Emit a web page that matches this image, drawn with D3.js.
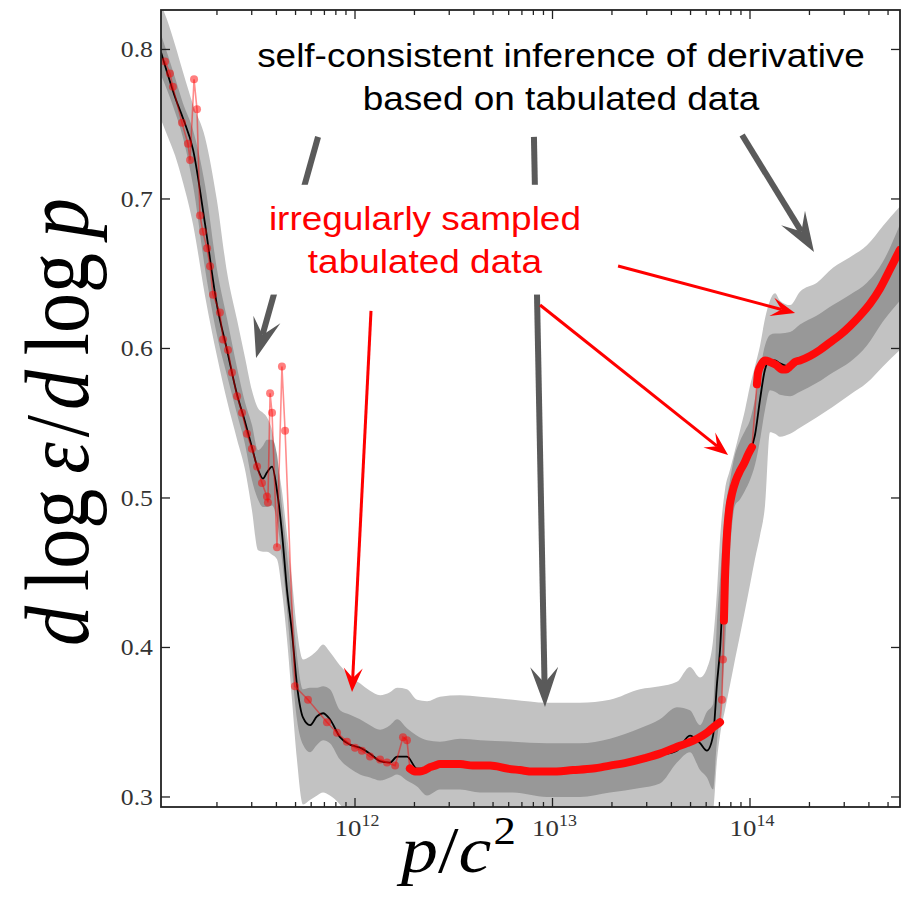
<!DOCTYPE html>
<html>
<head>
<meta charset="utf-8">
<style>
body { margin: 0; background: #fff; }
svg { display: block; }
</style>
</head>
<body>
<svg width="902" height="900"></svg>
<script src="https://d3js.org/d3.v7.min.js"></script>
<script>
// x positions are log10(p/c^2); values are d log eps / d log p
var gridLogP = [11.018, 11.048, 11.089, 11.129, 11.180, 11.241, 11.301, 11.352, 11.403, 11.443,
  11.478, 11.509, 11.534, 11.554, 11.580, 11.605, 11.630, 11.656, 11.681, 11.706,
  11.737, 11.772, 11.808, 11.838, 11.873, 11.924, 11.975, 12.025, 12.076, 12.127,
  12.177, 12.213, 12.263, 12.314, 12.365, 12.430, 12.532, 12.633, 12.800, 12.972,
  13.139, 13.291, 13.443, 13.544, 13.630, 13.696, 13.747, 13.782, 13.813, 13.833,
  13.848, 13.873, 13.899, 13.924, 13.949, 13.975, 14.000, 14.025, 14.051, 14.076,
  14.101, 14.127, 14.152, 14.203, 14.253, 14.339, 14.420, 14.506, 14.592, 14.673,
  14.759];

var median = [0.798, 0.785, 0.768, 0.754, 0.733, 0.683, 0.629, 0.599, 0.569, 0.551,
  0.534, 0.519, 0.513, 0.517, 0.521, 0.505, 0.477, 0.438, 0.410, 0.375,
  0.353, 0.348, 0.354, 0.356, 0.352, 0.340, 0.335, 0.333, 0.329, 0.324,
  0.323, 0.327, 0.327, 0.319, 0.319, 0.322, 0.322, 0.321, 0.319, 0.317,
  0.318, 0.321, 0.325, 0.328, 0.331, 0.341, 0.336, 0.331, 0.341, 0.376,
  0.398, 0.465, 0.495, 0.512, 0.519, 0.525, 0.531, 0.542, 0.566, 0.586,
  0.592, 0.592, 0.590, 0.588, 0.591, 0.599, 0.607, 0.615, 0.628, 0.644,
  0.666];

var lightHi = [0.830, 0.820, 0.803, 0.785, 0.763, 0.741, 0.699, 0.651, 0.619, 0.594,
  0.572, 0.560, 0.557, 0.554, 0.545, 0.525, 0.505, 0.475, 0.445, 0.412,
  0.392, 0.394, 0.398, 0.402, 0.397, 0.388, 0.381, 0.376, 0.371, 0.368,
  0.370, 0.373, 0.372, 0.365, 0.364, 0.367, 0.368, 0.367, 0.365, 0.363,
  0.363, 0.365, 0.372, 0.374, 0.377, 0.387, 0.380, 0.386, 0.405, 0.438,
  0.472, 0.505, 0.519, 0.532, 0.545, 0.559, 0.575, 0.588, 0.602, 0.620,
  0.632, 0.637, 0.632, 0.629, 0.638, 0.644, 0.654, 0.661, 0.669, 0.682,
  0.695];

var darkHi = [0.810, 0.798, 0.781, 0.764, 0.746, 0.709, 0.653, 0.620, 0.587, 0.564,
  0.549, 0.532, 0.535, 0.539, 0.539, 0.529, 0.495, 0.462, 0.430, 0.395,
  0.372, 0.373, 0.373, 0.374, 0.372, 0.358, 0.355, 0.352, 0.348, 0.345,
  0.348, 0.352, 0.346, 0.341, 0.338, 0.337, 0.339, 0.338, 0.337, 0.336,
  0.336, 0.339, 0.346, 0.352, 0.360, 0.358, 0.348, 0.357, 0.362, 0.418,
  0.445, 0.490, 0.512, 0.529, 0.538, 0.545, 0.552, 0.566, 0.586, 0.602,
  0.609, 0.610, 0.610, 0.611, 0.616, 0.622, 0.629, 0.636, 0.644, 0.658,
  0.683];

var darkLo = [0.783, 0.773, 0.758, 0.741, 0.709, 0.653, 0.609, 0.582, 0.556, 0.536,
  0.512, 0.499, 0.494, 0.494, 0.495, 0.485, 0.459, 0.425, 0.385, 0.352,
  0.335, 0.330, 0.335, 0.338, 0.336, 0.325, 0.319, 0.315, 0.313, 0.311,
  0.313, 0.315, 0.311, 0.307, 0.301, 0.305, 0.305, 0.303, 0.303, 0.300,
  0.300, 0.303, 0.306, 0.309, 0.323, 0.330, 0.318, 0.313, 0.305, 0.338,
  0.354, 0.398, 0.465, 0.495, 0.499, 0.505, 0.512, 0.522, 0.539, 0.559,
  0.572, 0.571, 0.569, 0.568, 0.571, 0.577, 0.584, 0.591, 0.602, 0.618,
  0.632];

var lightLo = [0.753, 0.743, 0.729, 0.711, 0.683, 0.635, 0.595, 0.565, 0.539, 0.519,
  0.492, 0.465, 0.464, 0.464, 0.462, 0.459, 0.438, 0.405, 0.365, 0.325,
  0.295, 0.298, 0.301, 0.303, 0.301, 0.295, 0.285, 0.280, 0.278, 0.278,
  0.278, 0.278, 0.278, 0.278, 0.278, 0.278, 0.278, 0.278, 0.278, 0.278,
  0.278, 0.278, 0.278, 0.278, 0.278, 0.278, 0.278, 0.285, 0.291, 0.325,
  0.341, 0.358, 0.375, 0.392, 0.408, 0.425, 0.442, 0.459, 0.475, 0.495,
  0.544, 0.543, 0.541, 0.543, 0.547, 0.554, 0.561, 0.569, 0.577, 0.588,
  0.599];

// tabulated data: [log10 p, value]
var tabSparse = [[11.038, 0.792], [11.063, 0.784], [11.078, 0.775], [11.124, 0.751], [11.154, 0.737],
  [11.165, 0.726], [11.185, 0.780], [11.200, 0.760], [11.215, 0.689], [11.230, 0.678],
  [11.251, 0.667], [11.266, 0.655], [11.281, 0.636], [11.316, 0.624], [11.332, 0.606],
  [11.357, 0.599], [11.377, 0.584], [11.403, 0.568], [11.428, 0.557], [11.453, 0.543],
  [11.478, 0.533], [11.504, 0.521], [11.529, 0.510], [11.554, 0.501], [11.559, 0.497],
  [11.570, 0.570], [11.580, 0.557], [11.605, 0.467], [11.630, 0.588], [11.646, 0.545],
  [11.696, 0.374], [11.762, 0.365], [11.858, 0.350], [11.909, 0.343], [11.959, 0.337],
  [12.000, 0.333], [12.035, 0.331], [12.076, 0.327], [12.127, 0.325], [12.162, 0.323],
  [12.203, 0.321], [12.243, 0.340], [12.263, 0.338], [12.278, 0.319],
  [13.858, 0.365], [13.863, 0.392]];

var tabDenseLow = [[12.278, 0.319], [12.304, 0.317], [12.329, 0.317], [12.354, 0.318], [12.380, 0.320],
  [12.405, 0.321], [12.430, 0.322], [12.481, 0.322], [12.532, 0.322], [12.597, 0.321],
  [12.684, 0.321], [12.770, 0.319], [12.835, 0.318], [12.901, 0.317], [12.987, 0.317],
  [13.104, 0.318], [13.205, 0.319], [13.291, 0.321], [13.377, 0.323], [13.468, 0.326],
  [13.544, 0.329], [13.620, 0.333], [13.681, 0.336], [13.732, 0.339], [13.782, 0.343],
  [13.818, 0.347], [13.848, 0.350]];

var tabDenseRise = [[13.868, 0.418], [13.873, 0.445], [13.878, 0.462], [13.884, 0.477], [13.894, 0.492],
  [13.909, 0.503], [13.929, 0.512], [13.949, 0.518], [13.970, 0.523], [13.990, 0.529], [14.010, 0.534]];

var tabDenseHigh = [[14.035, 0.576], [14.041, 0.584], [14.056, 0.589], [14.076, 0.592], [14.101, 0.591],
  [14.132, 0.589], [14.162, 0.586], [14.182, 0.586], [14.203, 0.588], [14.228, 0.591],
  [14.253, 0.592], [14.304, 0.595], [14.354, 0.599], [14.405, 0.604], [14.456, 0.609],
  [14.506, 0.615], [14.557, 0.622], [14.608, 0.630], [14.658, 0.640], [14.709, 0.653],
  [14.759, 0.666]];

var yTicks = [0.3, 0.4, 0.5, 0.6, 0.7, 0.8];
var xMajorExp = [12, 13, 14];

// annotation arrows: [from logP, from value, to logP, to value]
var grayArrows = [[11.813, 0.7415, 11.499, 0.5936],
  [12.906, 0.7415, 12.962, 0.3602],
  [13.960, 0.7428, 14.324, 0.6645]];
var redArrows = [[12.081, 0.6251, 11.985, 0.3702],
  [13.332, 0.6552, 14.228, 0.6237],
  [12.937, 0.6291, 13.889, 0.5288]];

var blackNote = ["self-consistent inference of derivative", "based on tabulated data"];
var redNote = ["irregularly sampled", "tabulated data"];

var svg = d3.select("svg");
var padL = 161, padR = 900, padT = 10, padB = 807;
var stretch = 1.12;

var x = d3.scaleLog()
    .domain([Math.pow(10, 11.0177), Math.pow(10, 14.7595)])
    .range([padL, padR]);
var y = d3.scaleLinear()
    .domain([0.2933, 0.8264])
    .range([padB, padT]);
function px(lp) { return x(Math.pow(10, lp)); }

svg.append("clipPath").attr("id", "plotclip")
  .append("rect").attr("x", padL).attr("y", padT)
  .attr("width", padR - padL).attr("height", padB - padT);

var plot = svg.append("g").attr("clip-path", "url(#plotclip)");

var grid = gridLogP.map(function(lp, i) {
  return {lp: lp, m: median[i], lh: lightHi[i], ll: lightLo[i], dh: darkHi[i], dl: darkLo[i]};
});

var band = function(lo, hi) {
  return d3.area()
    .x(function(d) { return px(d.lp); })
    .y0(function(d) { return y(d[lo]); })
    .y1(function(d) { return y(d[hi]); })
    .curve(d3.curveMonotoneX);
};

plot.append("path").datum(grid)
    .attr("fill", "#c2c2c2")
    .attr("d", band("ll", "lh"));
plot.append("path").datum(grid)
    .attr("fill", "#989898")
    .attr("d", band("dl", "dh"));

plot.append("path").datum(grid)
    .attr("fill", "none")
    .attr("stroke", "#000")
    .attr("stroke-width", 1.8)
    .attr("d", d3.line()
      .x(function(d) { return px(d.lp); })
      .y(function(d) { return y(d.m); })
      .curve(d3.curveMonotoneX));

// tabulated points, thin line through all
var allTab = tabSparse.concat(tabDenseLow, tabDenseRise, tabDenseHigh)
  .sort(function(a, b) { return a[0] - b[0]; });
var tabLine = d3.line()
  .x(function(d) { return px(d[0]); })
  .y(function(d) { return y(d[1]); });

plot.append("path").datum(allTab)
    .attr("fill", "none")
    .attr("stroke", "#ff0000")
    .attr("stroke-opacity", 0.45)
    .attr("stroke-width", 1.6)
    .attr("d", tabLine);

plot.selectAll("circle.sparse")
  .data(tabSparse)
  .enter().append("circle")
    .attr("class", "sparse")
    .attr("cx", function(d) { return px(d[0]); })
    .attr("cy", function(d) { return y(d[1]); })
    .attr("r", 4)
    .attr("fill", "#ff0000")
    .attr("fill-opacity", 0.5);

var denseLine = d3.line()
  .x(function(d) { return px(d[0]); })
  .y(function(d) { return y(d[1]); })
  .curve(d3.curveMonotoneX);
[tabDenseLow, tabDenseRise, tabDenseHigh].forEach(function(seg) {
  plot.append("path").datum(seg)
      .attr("fill", "none")
      .attr("stroke", "#ff0a0a")
      .attr("stroke-width", 8)
      .attr("stroke-linecap", "round")
      .attr("stroke-linejoin", "round")
      .attr("d", denseLine);
});

// frame and ticks
svg.append("rect")
    .attr("x", padL).attr("y", padT)
    .attr("width", padR - padL).attr("height", padB - padT)
    .attr("fill", "none").attr("stroke", "#222").attr("stroke-width", 1.8);

var ticks = svg.append("g").attr("stroke", "#222").attr("stroke-width", 1.3);
yTicks.forEach(function(v) {
  ticks.append("line").attr("x1", padL).attr("x2", padL + 9).attr("y1", y(v)).attr("y2", y(v));
  ticks.append("line").attr("x1", padR - 9).attr("x2", padR).attr("y1", y(v)).attr("y2", y(v));
});
var minor = [];
[11, 12, 13, 14].forEach(function(e) {
  for (var k = 2; k <= 9; k++) {
    var p = k * Math.pow(10, e);
    if (p > x.domain()[0] && p < x.domain()[1]) minor.push(p);
  }
});
minor.forEach(function(p) {
  ticks.append("line").attr("x1", x(p)).attr("x2", x(p)).attr("y1", padB).attr("y2", padB - 5);
  ticks.append("line").attr("x1", x(p)).attr("x2", x(p)).attr("y1", padT).attr("y2", padT + 5);
});
xMajorExp.forEach(function(e) {
  var p = Math.pow(10, e);
  ticks.append("line").attr("x1", x(p)).attr("x2", x(p)).attr("y1", padB).attr("y2", padB - 9);
  ticks.append("line").attr("x1", x(p)).attr("x2", x(p)).attr("y1", padT).attr("y2", padT + 9);
});

var serif = "'Liberation Serif', 'DejaVu Serif', serif";
yTicks.forEach(function(v) {
  svg.append("text")
      .attr("transform", "translate(" + (padL - 8) + "," + (y(v) + 8) + ") scale(" + stretch + ",1)")
      .attr("text-anchor", "end")
      .style("font-family", serif).style("font-size", "23px")
      .attr("fill", "#333")
      .text(v.toFixed(1));
});
xMajorExp.forEach(function(e) {
  var t = svg.append("text")
      .attr("transform", "translate(" + (x(Math.pow(10, e)) + 2) + ",836) scale(" + stretch + ",1)")
      .attr("text-anchor", "middle")
      .style("font-family", serif).style("font-size", "24px")
      .attr("fill", "#333");
  t.append("tspan").text("10");
  t.append("tspan").attr("dy", -10).style("font-size", "16px").text(e);
});

// axis labels
var ylab = svg.append("text")
    .attr("transform", "translate(88,422) scale(1.15,1) rotate(-90)")
    .attr("text-anchor", "middle")
    .style("font-family", serif).style("font-size", "80px")
    .attr("fill", "#000");
ylab.append("tspan").style("font-style", "italic").text("d");
ylab.append("tspan").attr("dx", 15).text("log");
ylab.append("tspan").attr("dx", 15).style("font-style", "italic").text("ε");
ylab.append("tspan").attr("dx", 5).text("/");
ylab.append("tspan").attr("dx", 5).style("font-style", "italic").text("d");
ylab.append("tspan").attr("dx", 15).text("log");
ylab.append("tspan").attr("dx", 15).style("font-style", "italic").text("p");

var xlab = svg.append("text")
    .attr("transform", "translate(401,872) scale(" + stretch + ",1)")
    .attr("text-anchor", "start")
    .style("font-family", serif).style("font-size", "66px")
    .attr("fill", "#000");
xlab.append("tspan").style("font-style", "italic").text("p");
xlab.append("tspan").text("/");
xlab.append("tspan").style("font-style", "italic").text("c");
xlab.append("tspan").attr("dy", -28).attr("dx", 2).style("font-size", "40px").text("2");

// arrows
function arrow(g, a, color, width, headLen, headW, notch) {
  var x1 = px(a[0]), y1 = y(a[1]), x2 = px(a[2]), y2 = y(a[3]);
  var dx = x2 - x1, dy = y2 - y1, len = Math.sqrt(dx * dx + dy * dy);
  var ux = dx / len, uy = dy / len, nx = -uy, ny = ux;
  var bx = x2 - ux * headLen, by = y2 - uy * headLen;
  var nbx = x2 - ux * (headLen - notch), nby = y2 - uy * (headLen - notch);
  g.append("line")
      .attr("x1", x1).attr("y1", y1).attr("x2", nbx).attr("y2", nby)
      .attr("stroke", color).attr("stroke-width", width);
  g.append("path")
      .attr("d", "M" + x2 + "," + y2 +
        "L" + (bx + nx * headW / 2) + "," + (by + ny * headW / 2) +
        "L" + nbx + "," + nby +
        "L" + (bx - nx * headW / 2) + "," + (by - ny * headW / 2) + "Z")
      .attr("fill", color);
}
var arrows = svg.append("g");
grayArrows.forEach(function(a) { arrow(arrows, a, "#5a5a5a", 6, 40, 28, 16); });
redArrows.forEach(function(a) { arrow(arrows, a, "#ff0000", 3, 24, 19, 10); });

var sans = "'Liberation Sans', Arial, sans-serif";
var redBox = svg.append("rect").attr("fill", "#fff");
var redText = svg.append("g");
redNote.forEach(function(s, i) {
  redText.append("text")
      .attr("transform", "translate(" + px(12.354) + "," + y(0.6793 - i * 0.0288) + ") scale(" + stretch + ",1)")
      .attr("text-anchor", "middle")
      .style("font-family", sans).style("font-size", "33px")
      .attr("fill", "#ff0000")
      .text(s);
});
var bb = redText.node().getBBox();
redBox.attr("x", bb.x - 15).attr("y", bb.y - 15)
    .attr("width", bb.width + 30).attr("height", bb.height + 30);

blackNote.forEach(function(s, i) {
  svg.append("text")
      .attr("transform", "translate(" + px(13.043) + "," + y(0.7883 - i * 0.0288) + ") scale(" + stretch + ",1)")
      .attr("text-anchor", "middle")
      .style("font-family", sans).style("font-size", "33px")
      .attr("fill", "#000")
      .text(s);
});
</script>
</body>
</html>
